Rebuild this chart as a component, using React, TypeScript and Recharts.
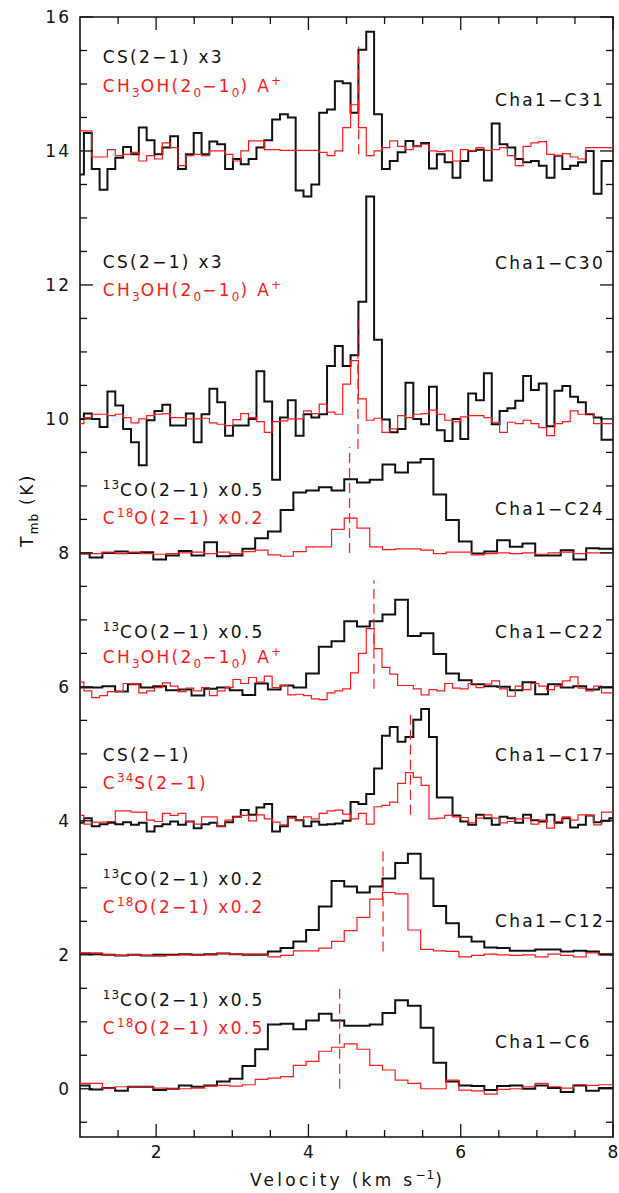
import React from 'react';
import {
  ComposedChart,
  Line,
  XAxis,
  YAxis,
  ReferenceLine,
  ReferenceArea,
  ReferenceDot,
} from 'recharts';

// channel grids (km/s): CS / CH3OH / C34S use the fine one, CO isotopologues the coarse one
const FINE_V = Array.from({ length: 69 }, (_, i) => +(1.0 + i * 0.103).toFixed(3));
const COARSE_V = Array.from({ length: 44 }, (_, i) => +(0.876 + i * 0.1672).toFixed(3));

// Cha1-C31 (offset 14)
const C31_CS = [13.65, 14.27, 13.73, 13.42, 13.73, 13.9, 14.06, 13.95, 14.35, 14.16, 13.95, 14.05, 14.22, 13.73, 13.95, 14.27, 13.95, 14.14, 14.1, 13.73, 13.88, 13.8, 13.88, 14.05, 14.16, 14.47, 14.55, 14.5, 13.41, 13.32, 13.5, 14.57, 14.62, 15.04, 15.01, 14.57, 15.51, 15.78, 14.55, 13.73, 13.85, 13.98, 14.15, 14.07, 14.12, 13.74, 13.95, 13.83, 13.6, 13.85, 14.0, 14.02, 13.56, 14.41, 14.1, 14.05, 13.88, 13.83, 13.85, 13.78, 13.6, 13.93, 13.73, 13.78, 13.83, 14.0, 13.36, 13.85, 13.85];
const C31_CH3OH = [14.3, 14.3, 13.91, 13.91, 14.02, 13.93, 13.95, 13.98, 13.85, 13.93, 13.88, 14.12, 14.05, 13.78, 13.93, 13.95, 13.93, 14.0, 14.0, 13.95, 13.85, 14.0, 14.15, 14.15, 14.02, 14.02, 14.01, 14.01, 14.01, 14.01, 14.01, 13.98, 13.93, 14.0, 14.35, 14.69, 14.35, 13.93, 14.0, 14.05, 14.15, 14.07, 14.02, 14.07, 14.1, 14.0, 13.99, 14.0, 13.85, 14.02, 14.0, 14.05, 14.01, 14.02, 14.05, 13.93, 13.78, 14.07, 14.12, 14.14, 13.95, 13.93, 13.96, 13.91, 13.88, 14.05, 14.05, 14.05, 14.05];

// Cha1-C30 (offset 10)
const C30_CS = [10.0, 10.08, 10.0, 9.88, 10.41, 10.2, 9.85, 9.65, 9.31, 9.98, 10.12, 10.21, 9.9, 9.9, 10.08, 9.65, 10.07, 10.45, 10.25, 9.75, 9.9, 9.9, 10.0, 10.71, 10.26, 9.09, 10.02, 10.28, 9.75, 10.07, 10.02, 10.07, 10.79, 11.09, 10.79, 10.95, 11.75, 13.32, 11.18, 9.99, 9.8, 9.85, 10.54, 10.0, 9.92, 10.48, 9.83, 9.67, 10.0, 9.7, 10.38, 10.28, 10.68, 9.92, 10.12, 10.16, 10.27, 10.64, 10.43, 10.53, 9.89, 10.42, 10.49, 10.33, 10.25, 10.07, 10.02, 9.69, 9.69];
const C30_CH3OH = [9.93, 10.02, 10.07, 10.07, 10.05, 10.07, 10.02, 9.94, 10.0, 10.05, 10.07, 10.08, 10.02, 10.02, 10.0, 10.0, 10.01, 9.94, 9.92, 9.9, 9.99, 10.08, 10.02, 9.96, 9.8, 9.96, 9.97, 10.0, 10.0, 10.12, 10.08, 10.22, 10.1, 10.07, 10.52, 10.87, 10.3, 9.98, 10.01, 9.8, 9.85, 10.05, 10.02, 10.07, 10.08, 10.13, 10.07, 9.98, 9.96, 10.03, 10.05, 10.05, 10.02, 9.95, 9.8, 9.95, 9.93, 9.98, 9.93, 9.87, 9.75, 9.93, 9.96, 10.12, 10.07, 10.08, 9.93, 9.93, 9.93];

// Cha1-C24 (offset 8)
const C24_13CO = [7.99, 7.99, 7.93, 8.0, 8.02, 8.0, 8.01, 7.9, 7.96, 8.03, 7.96, 8.16, 7.95, 7.96, 8.06, 8.22, 8.32, 8.64, 8.9, 8.93, 8.98, 8.93, 9.1, 9.05, 9.09, 9.32, 9.2, 9.35, 9.4, 8.87, 8.49, 8.17, 7.99, 8.02, 8.19, 8.09, 8.14, 7.96, 7.96, 8.04, 7.9, 8.07, 8.06, 8.06];
const C24_C18O = [7.99, 7.99, 7.99, 8.01, 7.99, 8.01, 7.99, 7.98, 7.99, 8.0, 8.01, 7.99, 8.01, 7.99, 8.02, 8.04, 7.97, 7.95, 8.02, 8.09, 8.09, 8.35, 8.52, 8.37, 8.09, 8.05, 8.06, 8.06, 8.04, 7.99, 8.01, 8.01, 7.97, 7.99, 8.0, 7.99, 8.0, 7.98, 8.0, 8.01, 7.99, 8.0, 8.0, 8.0];

// Cha1-C22 (offset 6)
const C22_13CO = [5.99, 5.99, 5.99, 6.01, 5.93, 6.04, 5.99, 6.01, 5.95, 5.96, 5.87, 5.97, 5.99, 5.95, 5.88, 6.05, 5.96, 6.02, 5.99, 6.2, 6.6, 6.68, 6.98, 6.9, 6.98, 7.08, 7.3, 6.76, 6.8, 6.49, 6.2, 6.1, 6.04, 6.01, 6.0, 5.95, 6.07, 5.89, 6.04, 5.99, 6.01, 5.96, 5.99, 5.99];
const C22_CH3OH = [6.07, 5.94, 5.84, 5.87, 5.93, 5.93, 6.05, 6.04, 5.91, 5.94, 5.99, 6.06, 6.01, 5.93, 5.98, 5.94, 5.99, 5.87, 5.94, 5.99, 6.11, 6.05, 6.14, 6.07, 6.16, 5.99, 6.02, 5.88, 5.89, 5.87, 5.82, 5.81, 5.91, 5.94, 5.97, 6.21, 6.5, 6.87, 6.57, 6.29, 6.19, 6.02, 6.02, 5.97, 5.88, 5.96, 5.94, 6.05, 5.98, 5.97, 6.05, 5.99, 6.04, 6.09, 5.97, 5.86, 6.01, 5.96, 6.05, 6.01, 5.96, 6.01, 6.09, 6.15, 5.98, 5.94, 6.01, 5.91, 5.91];

// Cha1-C17 (offset 4)
const C17_CS = [3.97, 4.04, 3.92, 3.95, 3.97, 3.95, 3.98, 3.94, 3.97, 3.84, 3.92, 3.95, 3.99, 3.94, 3.99, 3.89, 3.95, 3.97, 3.92, 3.98, 4.06, 4.16, 4.09, 4.2, 4.25, 3.84, 3.92, 4.06, 4.01, 3.92, 3.99, 3.94, 3.95, 3.96, 4.0, 4.28, 4.25, 4.4, 4.78, 5.27, 5.4, 5.18, 5.25, 5.51, 5.67, 5.25, 4.35, 4.35, 4.08, 3.99, 3.94, 4.09, 4.04, 3.94, 4.06, 4.04, 3.97, 4.09, 4.01, 3.99, 4.09, 3.97, 4.04, 3.9, 3.94, 4.08, 3.98, 4.0, 4.04];
const C17_C34S = [4.08, 3.95, 3.98, 3.98, 3.99, 4.15, 4.15, 4.13, 4.13, 4.01, 3.99, 4.11, 4.08, 4.11, 3.99, 3.95, 4.06, 4.06, 3.92, 4.01, 4.06, 4.08, 4.0, 4.09, 4.03, 3.98, 3.94, 4.04, 4.01, 4.06, 4.03, 4.11, 4.15, 4.16, 4.1, 4.03, 4.11, 3.95, 4.21, 4.23, 4.28, 4.56, 4.72, 4.65, 4.53, 4.03, 4.04, 4.08, 4.06, 4.05, 3.97, 4.04, 4.09, 4.04, 3.97, 3.99, 4.03, 4.04, 3.95, 4.01, 3.89, 3.99, 4.06, 4.01, 4.09, 4.08, 3.94, 4.13, 4.13];

// Cha1-C12 (offset 2)
const C12_13CO = [2.01, 2.02, 2.01, 2.0, 1.99, 2.0, 1.99, 2.0, 2.0, 2.01, 2.0, 2.01, 2.02, 2.01, 2.0, 2.0, 2.05, 2.1, 2.2, 2.37, 2.72, 3.1, 3.02, 2.93, 3.02, 3.14, 3.37, 3.51, 3.14, 2.73, 2.47, 2.27, 2.2, 2.11, 2.1, 2.06, 2.06, 2.08, 2.08, 2.05, 2.06, 2.05, 2.01, 2.0];
const C12_C18O = [2.0, 2.03, 2.03, 2.0, 1.99, 2.0, 1.99, 1.98, 1.99, 2.0, 2.0, 2.0, 2.02, 2.01, 2.01, 2.01, 1.97, 1.99, 2.06, 2.06, 2.1, 2.2, 2.36, 2.56, 2.83, 2.93, 2.91, 2.37, 2.08, 2.06, 2.05, 1.97, 1.99, 2.01, 2.0, 1.99, 2.0, 1.97, 2.01, 1.99, 1.97, 2.03, 2.0, 2.0];

// Cha1-C6 (offset 0)
const C6_13CO = [0.05, 0.05, -0.01, 0.01, -0.03, 0.03, 0.03, -0.02, 0.0, 0.05, 0.03, 0.05, 0.11, 0.15, 0.34, 0.59, 0.96, 0.97, 0.89, 1.02, 1.12, 1.02, 0.94, 0.94, 0.96, 1.13, 1.32, 1.24, 0.91, 0.39, 0.11, 0.05, 0.04, -0.02, 0.04, 0.05, 0.0, 0.05, 0.01, -0.05, 0.05, -0.03, 0.01, 0.01];
const C6_C18O = [0.08, 0.08, 0.08, 0.01, 0.03, 0.03, 0.03, 0.01, 0.0, 0.0, 0.01, 0.04, 0.05, 0.04, 0.06, 0.14, 0.16, 0.18, 0.35, 0.41, 0.56, 0.62, 0.67, 0.59, 0.35, 0.28, 0.13, 0.08, 0.0, 0.0, 0.13, -0.02, -0.03, -0.08, -0.01, 0.0, 0.03, 0.08, 0.03, 0.01, 0.06, 0.05, 0.06, 0.06];

// systemic velocities (dashed markers) and their vertical extent
const DASH_V = [4.66, 4.65, 4.54, 4.86, 5.34, 4.98, 4.41];
const DASH_LO = [13.95, 9.55, 8.0, 5.97, 4.09, 2.05, 0.0];
const DASH_HI = [15.56, 11.5, 9.58, 7.59, 5.6, 3.58, 1.53];

// tick values
const X_TICKS = [1.5, 2, 2.5, 3, 3.5, 4, 4.5, 5, 5.5, 6, 6.5, 7, 7.5, 8];
const X_LABELS = [2, 4, 6, 8];
const Y_TICKS = [-0.5, 0, 0.5, 1, 1.5, 2, 2.5, 3, 3.5, 4, 4.5, 5, 5.5, 6, 6.5, 7, 7.5, 8, 8.5, 9, 9.5, 10, 10.5, 11, 11.5, 12, 12.5, 13, 13.5, 14, 14.5, 15, 15.5, 16];
const Y_LABELS = [0, 2, 4, 6, 8, 10, 12, 14, 16];

type Part = { t: string; s?: 'sub' | 'sup' };

const PANEL_NAMES = ['Cha1\u2212C31', 'Cha1\u2212C30', 'Cha1\u2212C24', 'Cha1\u2212C22', 'Cha1\u2212C17', 'Cha1\u2212C12', 'Cha1\u2212C6'];
const CS_X3: Part[] = [{ t: 'CS(2\u22121) x3' }];
const CH3OH: Part[] = [{ t: 'CH' }, { t: '3', s: 'sub' }, { t: 'OH(2' }, { t: '0', s: 'sub' }, { t: '\u22121' }, { t: '0', s: 'sub' }, { t: ') A' }, { t: '+', s: 'sup' }];
const CO13 = (f: string): Part[] => [{ t: '13', s: 'sup' }, { t: `CO(2\u22121) ${f}` }];
const C18O = (f: string): Part[] => [{ t: 'C' }, { t: '18', s: 'sup' }, { t: `O(2\u22121) ${f}` }];
const BLACK_LABELS: Part[][] = [CS_X3, CS_X3, CO13('x0.5'), CO13('x0.5'), [{ t: 'CS(2\u22121)' }], CO13('x0.2'), CO13('x0.5')];
const RED_LABELS: Part[][] = [CH3OH, CH3OH, C18O('x0.2'), CH3OH, [{ t: 'C' }, { t: '34', s: 'sup' }, { t: 'S(2\u22121)' }], C18O('x0.2'), C18O('x0.5')];

// label anchors in data units (left column x, right column x, per-panel heights)
const LEFT_LABEL_V = 1.3;
const RIGHT_LABEL_V = 6.45;
const BLACK_LABEL_T = [15.4, 12.34, 8.94, 6.82, 4.99, 3.13, 1.33];
const RED_LABEL_T = [14.97, 11.93, 8.52, 6.45, 4.57, 2.72, 0.91];
const NAME_LABEL_T = [14.76, 12.33, 8.66, 6.82, 4.99, 2.51, 0.7];

const W = 619;
const H = 1193;
const MARGIN = { top: 17, right: 6, left: 0, bottom: 0 };
const Y_AXIS_W = 80;
const X_AXIS_H = 56;
const PLOT_W = W - MARGIN.left - MARGIN.right - Y_AXIS_W;
const PLOT_H = H - MARGIN.top - MARGIN.bottom - X_AXIS_H;
const FONT = '"DejaVu Sans", sans-serif';
const RED = '#ff1a1a';
const INK = '#111';

const toSeries = (vel: number[], t: number[]) => t.map((y, i) => ({ v: vel[i], t: y }));

const SPECTRA = [
  { data: toSeries(FINE_V, C31_CS), red: false },
  { data: toSeries(FINE_V, C30_CS), red: false },
  { data: toSeries(COARSE_V, C24_13CO), red: false },
  { data: toSeries(COARSE_V, C22_13CO), red: false },
  { data: toSeries(FINE_V, C17_CS), red: false },
  { data: toSeries(COARSE_V, C12_13CO), red: false },
  { data: toSeries(COARSE_V, C6_13CO), red: false },
  { data: toSeries(FINE_V, C31_CH3OH), red: true },
  { data: toSeries(FINE_V, C30_CH3OH), red: true },
  { data: toSeries(COARSE_V, C24_C18O), red: true },
  { data: toSeries(FINE_V, C22_CH3OH), red: true },
  { data: toSeries(FINE_V, C17_C34S), red: true },
  { data: toSeries(COARSE_V, C12_C18O), red: true },
  { data: toSeries(COARSE_V, C6_C18O), red: true },
];

const RichText = ({ x, y, parts, fill }: { x: number; y: number; parts: Part[]; fill: string }) => {
  let cur = 0;
  return (
    <text x={x} y={y} fill={fill} fontFamily={FONT} fontSize={17} letterSpacing={2.3}>
      {parts.map((p, i) => {
        const target = p.s === 'sub' ? 5 : p.s === 'sup' ? -7 : 0;
        const dy = target - cur;
        cur = target;
        return (
          <tspan key={i} dy={dy} fontSize={p.s ? 12 : 17} letterSpacing={p.s ? 1 : 2.3}>
            {p.t}
          </tspan>
        );
      })}
    </text>
  );
};

const XTick = (props: any) => {
  const { x, y, payload } = props;
  const major = X_LABELS.includes(payload.value);
  const len = major ? 13 : 7;
  return (
    <g>
      <line x1={x} y1={y} x2={x} y2={y - len} stroke={INK} strokeWidth={1.3} />
      <line x1={x} y1={y - PLOT_H} x2={x} y2={y - PLOT_H + len} stroke={INK} strokeWidth={1.3} />
      {major && (
        <text x={x} y={y + 21} textAnchor="middle" fontFamily={FONT} fontSize={17} fill={INK}>
          {payload.value}
        </text>
      )}
    </g>
  );
};

const YTick = (props: any) => {
  const { x, y, payload } = props;
  const major = Y_LABELS.includes(payload.value);
  const len = major ? 13 : 7;
  return (
    <g>
      <line x1={x} y1={y} x2={x + len} y2={y} stroke={INK} strokeWidth={1.3} />
      <line x1={x + PLOT_W} y1={y} x2={x + PLOT_W - len} y2={y} stroke={INK} strokeWidth={1.3} />
      {major && (
        <text x={x - 9} y={y + 6} textAnchor="end" fontFamily={FONT} fontSize={17} letterSpacing={2} fill={INK}>
          {payload.value}
        </text>
      )}
    </g>
  );
};

const labelAt = (parts: Part[], fill: string) => (p: any) => (
  <RichText x={p.viewBox.x} y={p.viewBox.y + 6} parts={parts} fill={fill} />
);

export default function App() {
  return (
    <div style={{ width: W, height: H }}>
      <style>{'body{margin:0}'}</style>
      <ComposedChart width={W} height={H} margin={MARGIN}>
        <XAxis
          dataKey="v"
          type="number"
          domain={[1, 8]}
          allowDataOverflow
          ticks={X_TICKS}
          interval={0}
          tickSize={0}
          tickMargin={0}
          tick={<XTick />}
          axisLine={false}
          height={X_AXIS_H}
          label={{
            content: (p: any) => (
              <text
                x={p.viewBox.x + p.viewBox.width / 2 + 1}
                y={p.viewBox.y + 49}
                textAnchor="middle"
                fontFamily={FONT}
                fontSize={17}
                letterSpacing={3.3}
                fill={INK}
              >
                Velocity (km s
                <tspan dy={-7} fontSize={12} letterSpacing={1}>{'\u22121'}</tspan>
                <tspan dy={7}>)</tspan>
              </text>
            ),
          }}
        />
        <YAxis
          type="number"
          domain={[-0.72, 16]}
          allowDataOverflow
          ticks={Y_TICKS}
          interval={0}
          tickSize={0}
          tickMargin={0}
          tick={<YTick />}
          axisLine={false}
          width={Y_AXIS_W}
          label={{
            content: (p: any) => (
              <text
                transform={`rotate(-90, ${p.viewBox.x + 33}, ${p.viewBox.y + 493})`}
                x={p.viewBox.x + 33}
                y={p.viewBox.y + 493}
                textAnchor="middle"
                fontFamily={FONT}
                fontSize={17}
                letterSpacing={2.5}
                fill={INK}
              >
                T<tspan dy={5} fontSize={12} letterSpacing={1}>mb</tspan>
                <tspan dy={-5}> (K)</tspan>
              </text>
            ),
          }}
        />

        {SPECTRA.map((s, i) => (
          <Line
            key={i}
            data={s.data}
            dataKey="t"
            type="step"
            stroke={s.red ? RED : INK}
            strokeWidth={s.red ? 1.2 : 2}
            dot={false}
            activeDot={false}
            isAnimationActive={false}
          />
        ))}

        {DASH_V.map((v, i) => (
          <ReferenceLine
            key={`d${i}`}
            segment={[{ x: v, y: DASH_LO[i] }, { x: v, y: DASH_HI[i] }]}
            stroke={RED}
            strokeWidth={1.2}
            strokeDasharray="10 5"
          />
        ))}

        {PANEL_NAMES.map((name, i) => (
          <React.Fragment key={`l${i}`}>
            <ReferenceDot x={LEFT_LABEL_V} y={BLACK_LABEL_T[i]} r={0} fill="none" stroke="none" label={labelAt(BLACK_LABELS[i], INK)} />
            <ReferenceDot x={LEFT_LABEL_V} y={RED_LABEL_T[i]} r={0} fill="none" stroke="none" label={labelAt(RED_LABELS[i], RED)} />
            <ReferenceDot x={RIGHT_LABEL_V} y={NAME_LABEL_T[i]} r={0} fill="none" stroke="none" label={labelAt([{ t: name }], INK)} />
          </React.Fragment>
        ))}

        <ReferenceArea x1={1} x2={8} y1={-0.72} y2={16} fill="none" stroke={INK} strokeWidth={1.6} />
      </ComposedChart>
    </div>
  );
}
